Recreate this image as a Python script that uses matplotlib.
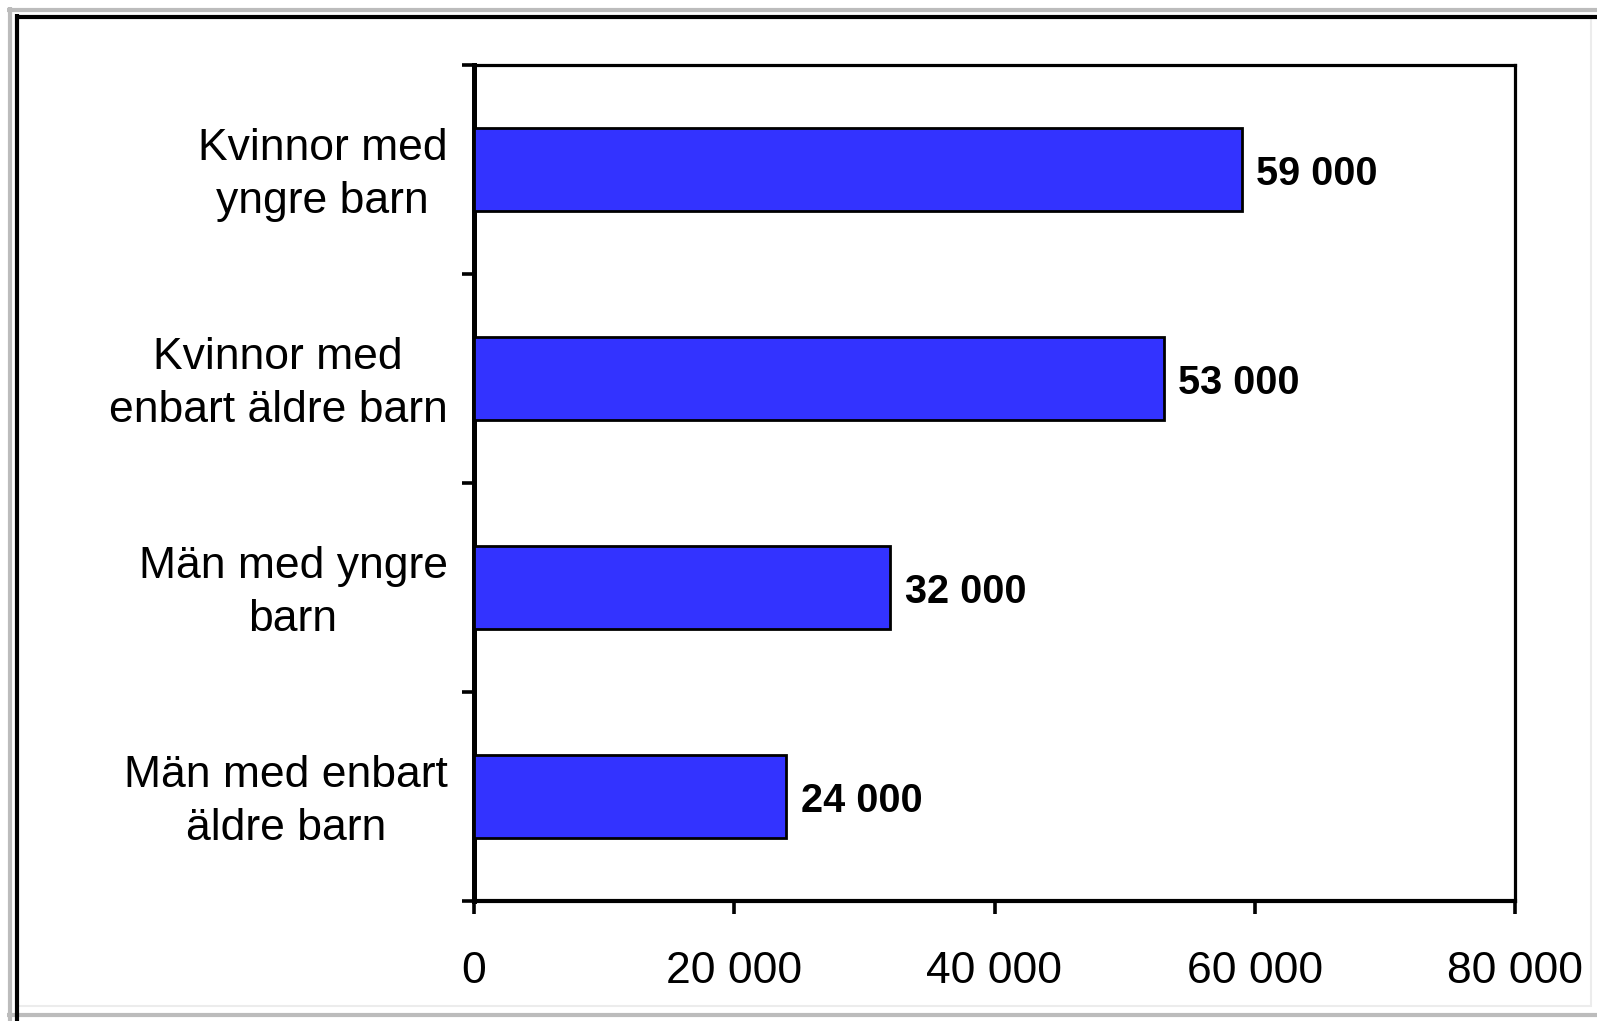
import matplotlib
matplotlib.use("Agg")
import matplotlib.pyplot as plt
from matplotlib.lines import Line2D
from matplotlib.transforms import ScaledTranslation

categories = ["Kvinnor med\nyngre barn", "Kvinnor med\nenbart äldre barn",
              "Män med yngre\nbarn", "Män med enbart\näldre barn"]
values = [59000, 53000, 32000, 24000]
value_labels = ["59 000", "53 000", "32 000", "24 000"]
xticks = [0, 20000, 40000, 60000, 80000]
xtick_labels = ["0", "20 000", "40 000", "60 000", "80 000"]

plt.rcParams['font.family'] = ['Liberation Sans', 'DejaVu Sans']

W, H = 1597, 1021
fig = plt.figure(figsize=(W / 100, H / 100), dpi=100)
fig.patch.set_facecolor('white')

def fx(px):
    return px / W

def fy(py):
    return 1 - py / H

ax = fig.add_axes([fx(474), fy(901), fx(1515) - fx(474), fy(65) - fy(901)])

n = len(categories)
ypos = [n - 1 - i for i in range(n)]
ax.barh(ypos, values, height=0.4, color='#3333FF', edgecolor='black', linewidth=2.0, zorder=3)

for y, v, lab in zip(ypos, values, value_labels):
    ax.annotate(lab, xy=(v, y), xytext=(10.5, -3), textcoords='offset points',
                ha='left', va='center', fontsize=28.5, fontweight='bold')

ax.set_xlim(0, 80000)
ax.set_ylim(-0.5, n - 0.5)

ax.set_xticks(xticks)
ax.set_xticklabels(xtick_labels, fontsize=32)
ax.tick_params(axis='x', direction='out', length=9, width=2.6, pad=27)

ax.set_yticks([i - 0.5 for i in range(n + 1)])
ax.set_yticklabels([''] * (n + 1))
ax.tick_params(axis='y', which='major', direction='out', length=9, width=2.6)
ax.set_yticks(ypos, minor=True)
ax.set_yticklabels(categories, minor=True, fontsize=32, multialignment='center',
                   linespacing=1.38)
ax.tick_params(axis='y', which='minor', length=0, pad=19)
shift = ScaledTranslation(0, 5 / 100, fig.dpi_scale_trans)
for lbl in ax.get_yticklabels(minor=True):
    lbl.set_transform(lbl.get_transform() + shift)

ax.spines['left'].set_linewidth(3.6)
ax.spines['bottom'].set_linewidth(3.0)
ax.spines['top'].set_linewidth(2.3)
ax.spines['right'].set_linewidth(2.3)

# outer frame
def hline(y, x0, x1, color, lw):
    fig.add_artist(Line2D([fx(x0), fx(x1)], [fy(y), fy(y)], transform=fig.transFigure,
                          color=color, linewidth=lw, solid_capstyle='butt'))

def vline(x, y0, y1, color, lw):
    fig.add_artist(Line2D([fx(x), fx(x)], [fy(y0), fy(y1)], transform=fig.transFigure,
                          color=color, linewidth=lw, solid_capstyle='butt'))

hline(10, 7, W, '#bcbcbc', 3.0)
vline(9.5, 7, H, '#bcbcbc', 3.0)
hline(1015, 7, W, '#bcbcbc', 3.0)
hline(1006, 15, 1592, '#ececec', 1.5)
vline(1591, 15, 1007, '#ececec', 1.5)
hline(17.5, 14.5, W, 'black', 3.0)
vline(16.5, 14.5, H, 'black', 3.0)

fig.savefig('out.png', dpi=100, facecolor='white')
